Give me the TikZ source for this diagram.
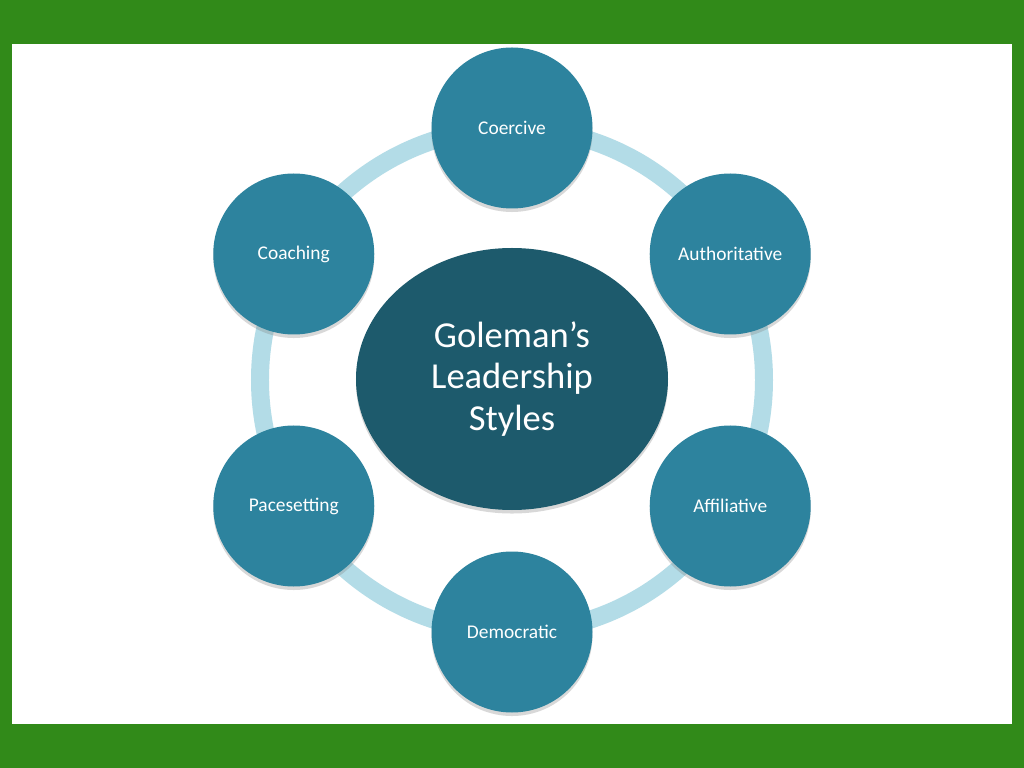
\documentclass[tikz,border=0pt]{standalone}
\usepackage{fontspec}
\setmainfont{Carlito}
\usetikzlibrary{shapes.geometric,shadows}

\definecolor{frame}{HTML}{318A19}
\definecolor{ringblue}{HTML}{B3DCE7}
\definecolor{styleblue}{HTML}{2D839E}
\definecolor{coreblue}{HTML}{1D5A6C}

\begin{document}
\begin{tikzpicture}[x=0.025cm,y=0.025cm,
  ring/.style={draw=ringblue,line width=18*0.711pt},
  stylecirc/.style={circle,fill=styleblue,text=white,minimum size=161*0.025cm,inner sep=0pt,
    font=\fontsize{13.8}{16}\selectfont,
    drop shadow={opacity=0.3,shadow xshift=0pt,shadow yshift=-2.5pt}},
  core/.style={ellipse,fill=coreblue,text=white,minimum width=312*0.025cm,minimum height=262*0.025cm,
    inner sep=0pt,align=center,font=\fontsize{26}{29.3}\selectfont,
    drop shadow={opacity=0.3,shadow xshift=0pt,shadow yshift=-2.5pt}}]
% frame
\fill[frame] (-512,-388) rectangle (512,380);
\fill[white] (-500,-344) rectangle (500,336);
\useasboundingbox (-512,-388) rectangle (512,380);
% ring behind the styles
\coordinate (o) at (0,0);
\draw[ring] (o) circle[radius=252];
\node[core] (gls) at (0,1) {Goleman’s\\Leadership\\Styles};
\node[stylecirc] (coer)  at (90:252)  {Coercive};
\node[stylecirc] (auth)  at (30:252)  {Authoritative};
\node[stylecirc] (affi)  at (-30:252) {Affiliative};
\node[stylecirc] (demo)  at (-90:252) {Democratic};
\node[stylecirc] (pace)  at (-150:252) {Pacesetting};
\node[stylecirc] (coach) at (150:252) {Coaching};
\end{tikzpicture}
\end{document}
